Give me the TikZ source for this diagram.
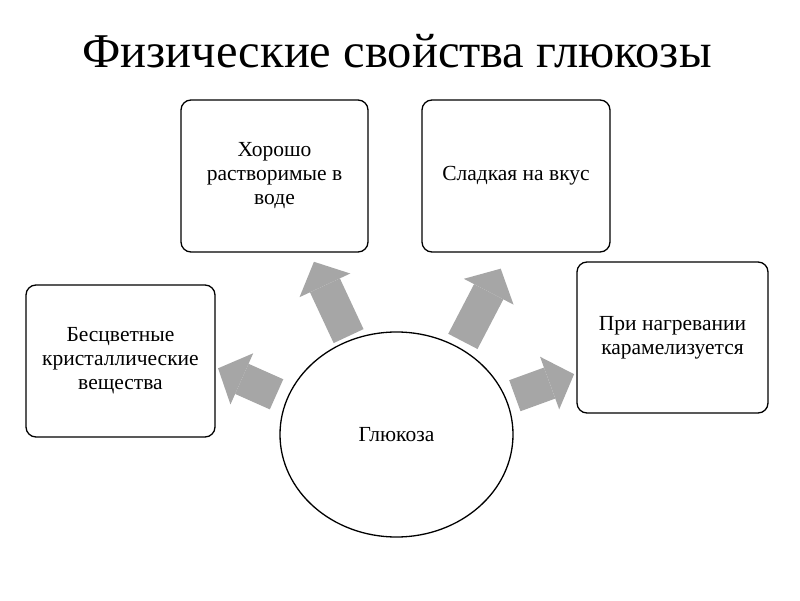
\documentclass[tikz,border=0pt]{standalone}
\usepackage{fontspec}
\setmainfont{Liberation Serif}
\usetikzlibrary{arrows.meta,shapes.geometric}
\definecolor{arrowgray}{RGB}{166,166,166}
\begin{document}
\begin{tikzpicture}[x=1pt,y=1pt]
      \tikzstyle{propbox}=[draw,rounded corners=10pt,line width=1.3pt,
                           align=center,inner sep=0pt,
                           font=\fontsize{21.5}{24}\selectfont]
      \tikzstyle{blockarrow}=[draw=arrowgray,line width=33pt,
                           -{Triangle[length=26pt,width=56pt,line width=0pt,fill=arrowgray]}]
      \useasboundingbox (0,0) rectangle (800,600);

      \node (title) [anchor=base,font=\fontsize{48.5}{54}\selectfont] at (397,532)
        {Физические свойства глюкозы};

      \node (p_sol) [propbox,minimum width=187pt,minimum height=152pt] at (274.5,424)
        {Хорошо\\растворимые в\\воде};
      \node (p_sweet) [propbox,minimum width=188pt,minimum height=152pt] at (516,424)
        {Сладкая на вкус};
      \node (p_color) [propbox,minimum width=189pt,minimum height=152pt] at (120.5,239)
        {Бесцветные\\кристаллические\\вещества};
      \node (p_heat) [propbox,minimum width=191pt,minimum height=151pt] at (672.5,262.5)
        {При нагревании\\карамелизуется};

      \node (gluc) [draw,ellipse,line width=1.3pt,minimum width=233pt,minimum height=205pt,
                    inner sep=0pt,font=\fontsize{21.5}{24}\selectfont] at (396.5,165.5) {Глюкоза};

      \draw[blockarrow,shorten <=4pt] (gluc.116) -- ++(115:86pt);
      \draw[blockarrow,shorten <=11pt] (gluc.162) -- ++(156:75pt);
      \draw[blockarrow,shorten <=7pt] (gluc.54) -- ++(62.5:89pt);
      \draw[blockarrow,shorten <=9pt] (gluc.18) -- ++(20:72pt);
\end{tikzpicture}
\end{document}
